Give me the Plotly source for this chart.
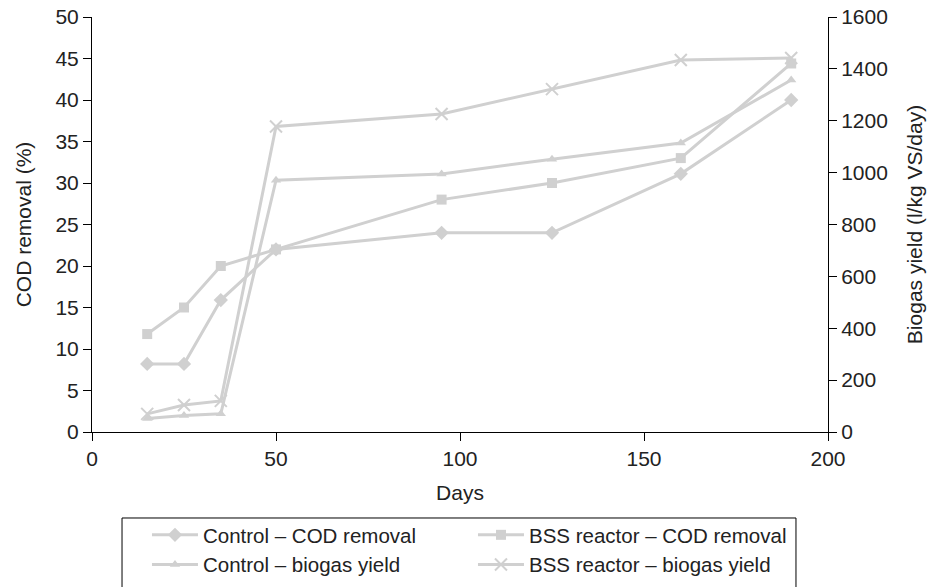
import plotly.graph_objects as go

days = [15, 25, 35, 50, 95, 125, 160, 190]
control_cod = [8.2, 8.2, 15.9, 22, 24, 24, 31.1, 40]
bss_cod = [11.8, 15, 20, 22, 28, 30, 33, 44.4]
control_biogas = [52, 64, 70, 971, 995, 1052, 1114, 1357]
bss_biogas = [70, 104, 120, 1178, 1226, 1322, 1434, 1442]

grey = "#d0d0d0"
font = "Liberation Sans, Arial, sans-serif"
fs = 21

fig = go.Figure()
fig.add_trace(go.Scatter(x=days, y=control_cod, mode="lines+markers", name="Control – COD removal",
                         line=dict(color=grey, width=3), marker=dict(symbol="diamond", size=11, color=grey)))
fig.add_trace(go.Scatter(x=days, y=bss_cod, mode="lines+markers", name="BSS reactor – COD removal",
                         line=dict(color=grey, width=3), marker=dict(symbol="square", size=10, color=grey)))
fig.add_trace(go.Scatter(x=days, y=control_biogas, mode="lines+markers", name="Control – biogas yield", yaxis="y2",
                         line=dict(color=grey, width=3), marker=dict(symbol="triangle-up", size=9, color=grey)))
fig.add_trace(go.Scatter(x=days, y=bss_biogas, mode="lines+markers", name="BSS reactor – biogas yield", yaxis="y2",
                         line=dict(color=grey, width=3),
                         marker=dict(symbol="x-thin", size=12, color=grey, line=dict(color=grey, width=2))))

axis_common = dict(showgrid=False, zeroline=False, showline=True, linecolor="black", linewidth=1,
                   ticks="outside", ticklen=8, tickcolor="black", tickfont=dict(size=fs, color="#222"),
                   title_font=dict(size=fs, color="#222"), automargin=False)

fig.update_layout(
    width=940, height=587,
    margin=dict(l=92, r=112, t=17, b=155, autoexpand=False),
    plot_bgcolor="white", paper_bgcolor="white",
    font=dict(family=font, size=fs, color="#222"),
    xaxis=dict(range=[0, 200], tickvals=[0, 50, 100, 150, 200], title=dict(text="Days", standoff=16),
               **axis_common),
    yaxis=dict(range=[0, 50], tickvals=list(range(0, 51, 5)), title=dict(text="COD removal (%)", standoff=18),
               **axis_common),
    yaxis2=dict(range=[0, 1600], tickvals=list(range(0, 1601, 200)), overlaying="y", side="right",
                title=dict(text="Biogas yield (l/kg VS/day)", standoff=20), **axis_common),
    legend=dict(orientation="h", x=0.0747, xanchor="left", y=-0.2, yanchor="top",
                borderwidth=0, bgcolor="rgba(0,0,0,0)",
                font=dict(size=20.5, color="#222"), entrywidth=265, entrywidthmode="pixels",
                tracegroupgap=0, itemwidth=46),
    shapes=[dict(type="rect", xref="paper", yref="paper", x0=0.0408, x1=0.9565, y0=-0.2072, y1=-0.405,
                 line=dict(color="black", width=1), fillcolor="rgba(0,0,0,0)")],
    showlegend=True,
)

fig.write_html("out.html", config={"displayModeBar": False},
               post_script="document.body.style.margin='0';document.body.style.padding='0';")
